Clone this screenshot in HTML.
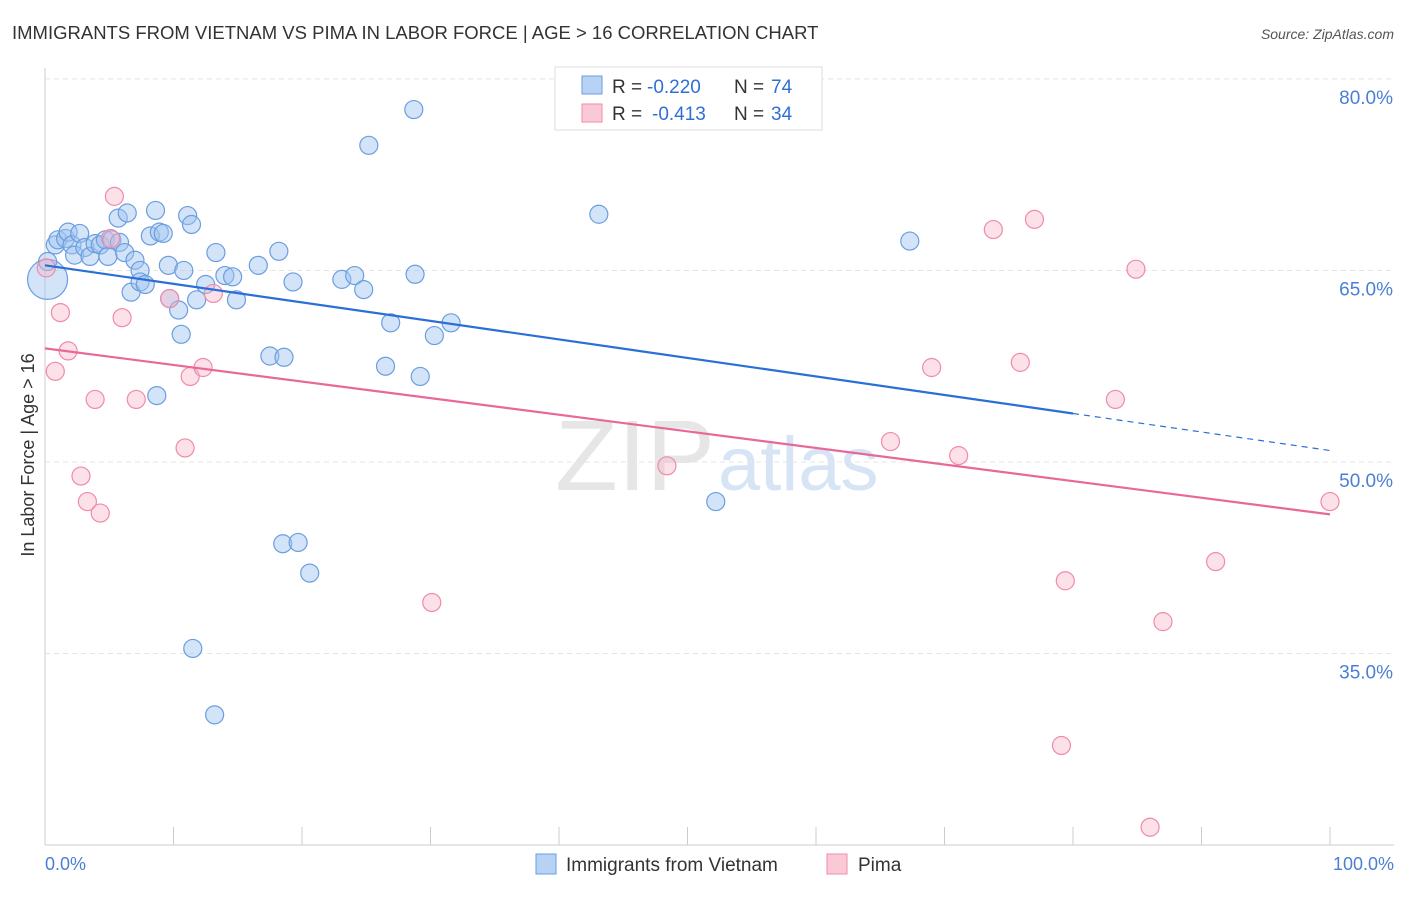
<!DOCTYPE html>
<html><head><meta charset="utf-8"><style>
body{margin:0;background:#fff;font-family:"Liberation Sans",sans-serif;}
svg text{font-family:"Liberation Sans",sans-serif;}
</style></head><body>
<svg id="chart" width="1406" height="892">
<text x="12" y="39" font-size="18.5" fill="#333">IMMIGRANTS FROM VIETNAM VS PIMA IN LABOR FORCE | AGE &gt; 16 CORRELATION CHART</text>
<text x="1394" y="39" font-size="14" fill="#555" text-anchor="end" font-style="italic">Source: ZipAtlas.com</text>
<text x="555" y="490" font-size="100" fill="#e6e6e6" font-family="Liberation Serif" textLength="160" lengthAdjust="spacingAndGlyphs">ZIP</text>
<text x="718" y="490" font-size="76" fill="#d6e4f5">atlas</text>
<g id="grid"></g>
<g id="axes"></g>
<g id="marks"></g>
<text transform="translate(34,455) rotate(-90)" font-size="18" fill="#333" text-anchor="middle">In Labor Force | Age &gt; 16</text>
<text x="45" y="870" font-size="18" fill="#4a7fd4">0.0%</text>
<text x="1394" y="870" font-size="18" fill="#4a7fd4" text-anchor="end">100.0%</text>
<g>
<rect x="555" y="67" width="267" height="63" fill="#fff" stroke="#ddd"/>
<rect x="582" y="76" width="20" height="18" fill="#b8d2f4" stroke="#6a9ee0"/>
<text x="612" y="93" font-size="19" fill="#333">R =</text>
<text x="647" y="93" font-size="19" fill="#2f6fd6">-0.220</text>
<text x="734" y="93" font-size="19" fill="#333">N =</text>
<text x="771" y="93" font-size="19" fill="#2f6fd6">74</text>
<rect x="582" y="104" width="20" height="18" fill="#f9c9d6" stroke="#f08aaa"/>
<text x="612" y="120" font-size="19" fill="#333">R =</text>
<text x="652" y="120" font-size="19" fill="#2f6fd6">-0.413</text>
<text x="734" y="120" font-size="19" fill="#333">N =</text>
<text x="771" y="120" font-size="19" fill="#2f6fd6">34</text>
</g>
<g>
<rect x="536" y="854" width="20" height="20" fill="#b8d2f4" stroke="#6a9ee0"/>
<text x="566" y="871" font-size="19" fill="#333">Immigrants from Vietnam</text>
<rect x="827" y="854" width="20" height="20" fill="#f9c9d6" stroke="#f08aaa"/>
<text x="858" y="871" font-size="19" fill="#333">Pima</text>
</g>
</svg>
<script>
const yTicks=[80,65,50,35];
const yTickLabels=["80.0%","65.0%","50.0%","35.0%"];
const xTicks=[0,10,20,30,40,50,60,70,80,90,100];
const blueX=[0.2,0.2,0.8,1.0,1.6,1.8,2.1,2.3,2.7,3.1,3.5,3.9,4.3,4.7,4.9,5.2,5.7,5.8,6.2,6.4,6.7,7.0,7.4,7.4,7.8,8.2,8.6,8.9,9.2,9.6,9.7,10.4,10.6,10.8,11.1,11.4,11.8,12.5,13.2,13.3,14.0,14.6,14.9,16.6,17.5,18.2,18.6,19.3,18.5,19.7,20.6,11.5,8.7,23.1,24.1,24.8,25.2,26.5,26.9,28.7,28.8,29.2,30.3,31.6,43.1,52.2,67.3];
const blueY=[64.3,65.7,67.0,67.4,67.5,68.0,67.0,66.2,67.9,66.8,66.1,67.1,67.0,67.4,66.1,67.4,69.1,67.2,66.4,69.5,63.3,65.8,65.0,64.1,63.9,67.7,69.7,68.0,67.9,65.4,62.8,61.9,60.0,65.0,69.3,68.6,62.7,63.9,30.2,66.4,64.6,64.5,62.7,65.4,58.3,66.5,58.2,64.1,43.6,43.7,41.3,35.4,55.2,64.3,64.6,63.5,74.8,57.5,60.9,77.6,64.7,56.7,59.9,60.9,69.4,46.9,67.3];
const pinkX=[0.1,0.8,1.2,1.8,2.8,3.3,3.9,4.3,5.1,5.4,6.0,7.1,9.7,10.9,11.3,12.3,13.1,30.1,48.4,65.8,69.0,71.1,73.8,75.9,77.0,79.1,79.4,83.3,84.9,86.0,87.0,91.1,100];
const pinkY=[65.2,57.1,61.7,58.7,48.9,46.9,54.9,46.0,67.5,70.8,61.3,54.9,62.8,51.1,56.7,57.4,63.2,39.0,49.7,51.6,57.4,50.5,68.2,57.8,69.0,27.8,40.7,54.9,65.1,21.4,37.5,42.2,46.9];
const blueTrend=[65.4,53.8,50.9];
const pinkTrend=[58.9,45.9];
const NS="http://www.w3.org/2000/svg";
const xs=v=>45+v*12.85;
const ys=v=>462-(v-50)*12.77;
function mk(tag,parent,attrs){const e=document.createElementNS(NS,tag);for(const k in attrs)e.setAttribute(k,attrs[k]);parent.appendChild(e);return e;}
const grid=document.getElementById('grid'),axes=document.getElementById('axes'),marks=document.getElementById('marks');
yTicks.forEach((t,i)=>{
 const l=mk('line',grid,{x1:45,x2:1394,y1:ys(t),y2:ys(t),stroke:'#e4e4e4','stroke-dasharray':'5,4'});
 
 
 const tx=mk('text',grid,{x:1393,y:ys(t)+25,'font-size':19,fill:'#4a7fd4','text-anchor':'end'});
 tx.textContent=yTickLabels[i];
 
 
});
const ax=mk('line',axes,{x1:45,x2:1394,y1:845,y2:845,stroke:'#ccc'});


const ay=mk('line',axes,{x1:45,x2:45,y1:68,y2:845,stroke:'#ccc'});


xTicks.forEach(t=>{
 const l=mk('line',axes,{x1:xs(t),x2:xs(t),y1:827,y2:845,stroke:'#ccc'});
 
 
});
blueX.forEach((x,i)=>{
 const c=mk('circle',marks,{cx:xs(x),cy:ys(blueY[i]),r:(i===0?20:9),fill:'rgba(160,196,240,0.45)',stroke:'#6a9ee0','stroke-width':1.2});
 
 
});
pinkX.forEach((x,i)=>{
 const c=mk('circle',marks,{cx:xs(x),cy:ys(pinkY[i]),r:9,fill:'rgba(248,180,200,0.4)',stroke:'#f08aaa','stroke-width':1.2});
 
 
});
const b1=mk('line',marks,{x1:xs(0),y1:ys(blueTrend[0]),x2:xs(80),y2:ys(blueTrend[1]),stroke:'#2a6fd6','stroke-width':2.2});


const b2=mk('line',marks,{x1:xs(80),y1:ys(blueTrend[1]),x2:xs(100),y2:ys(blueTrend[2]),stroke:'#2a6fd6','stroke-width':1.2,'stroke-dasharray':'6,5'});


const p1=mk('line',marks,{x1:xs(0),y1:ys(pinkTrend[0]),x2:xs(100),y2:ys(pinkTrend[1]),stroke:'#e8689a','stroke-width':2.2});


</script>
</body></html>
